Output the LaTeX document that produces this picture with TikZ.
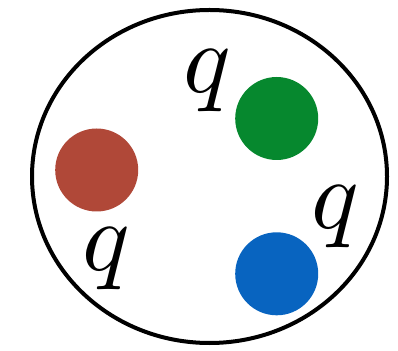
\documentclass[tikz,border=0pt]{standalone}
\usepackage{amsmath}
\usepackage{tikz}
\usetikzlibrary{positioning}
\definecolor{quarkred}{RGB}{176,72,56}
\definecolor{quarkgreen}{RGB}{6,136,46}
\definecolor{quarkblue}{RGB}{8,100,192}
\tikzset{
  quark/.style={circle, minimum size=83pt, inner sep=0pt},
  charge/.style={inner sep=0pt, scale=9.9}
}

\begin{document}
\begin{tikzpicture}[x=1pt, y=1pt]
  \useasboundingbox (0,0) rectangle (398,350);
  \draw[line width=4pt] (209.5,173.5) ellipse [x radius=177.5, y radius=166.5];
  \node[quark, fill=quarkred] (red) at (96.7,180) {};
  \node[quark, fill=quarkgreen] (green) at (276.7,231.5) {};
  \node[quark, fill=quarkblue] (blue) at (276.7,76.2) {};
  \node[charge] (qgreen) at (207,269) {$q$};
  \node[charge] (qred) at (106,91) {$q$};
  \node[charge] (qblue) at (335,133) {$q$};
\end{tikzpicture}
\end{document}
